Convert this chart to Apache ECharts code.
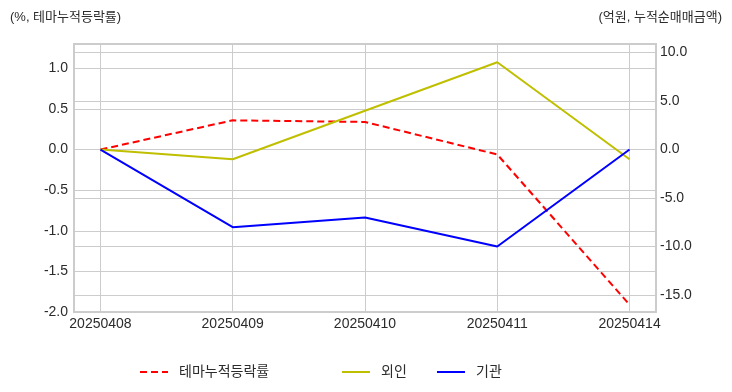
<!DOCTYPE html>
<html><head><meta charset="utf-8">
<script src="https://cdn.jsdelivr.net/npm/echarts@6/dist/echarts.min.js"></script>
<style>html,body{margin:0;padding:0;background:#fff}#c{width:732px;height:392px}</style>
</head><body><div id="c"></div>
<script>
const categories = ['20250408','20250409','20250410','20250411','20250414'];
const themeReturn = [0.0, 0.36, 0.34, -0.06, -1.91];
const foreign = [0.0, -1.0, 4.0, 9.0, -1.0];
const institution = [0.0, -8.0, -7.0, -10.0, 0.0];
const leftTicks = [-2.0, -1.5, -1.0, -0.5, 0.0, 0.5, 1.0];
const rightTicks = [-15, -10, -5, 0, 5, 10];
const seriesNames = ['테마누적등락률', '외인', '기관'];

const FONT = '"Liberation Sans", "Noto Sans CJK KR", sans-serif';
const toPairs = arr => arr.map((v, i) => [i, v]);
const chart = echarts.init(document.getElementById('c'), null, {renderer: 'canvas'});
const lbl = {color: '#2b2b2b', fontSize: 14, fontFamily: FONT};
const legTxt = {fontSize: 14, color: '#2b2b2b', fontFamily: FONT, padding: [0, 0, 0, 6]};
const legBase = {top: 360, itemWidth: 28, itemHeight: 10, itemStyle: {opacity: 0}, textStyle: legTxt};
chart.setOption({
  animation: false,
  backgroundColor: '#fff',
  title: [
    {text: '(%, 테마누적등락률)', left: 5, top: 6, textStyle: {fontSize: 13, fontWeight: 'normal', color: '#2b2b2b', fontFamily: FONT}},
    {text: '(억원, 누적순매매금액)', right: 5, top: 6, textStyle: {fontSize: 13, fontWeight: 'normal', color: '#2b2b2b', fontFamily: FONT}}
  ],
  legend: [
    Object.assign({data: [seriesNames[0]], left: 134}, legBase),
    Object.assign({data: [seriesNames[1]], left: 336}, legBase),
    Object.assign({data: [seriesNames[2]], left: 431}, legBase)
  ],
  grid: {left: 74, right: 76, top: 44, bottom: 80, show: true, borderColor: '#cccccc', borderWidth: 2, backgroundColor: 'transparent'},
  xAxis: {
    type: 'value', min: -0.2, max: 4.2,
    axisLine: {show: false},
    axisTick: {show: false, customValues: categories.map((c, i) => i)},
    axisLabel: Object.assign({customValues: categories.map((c, i) => i), formatter: v => categories[Math.round(v)], margin: 5}, lbl),
    splitLine: {show: true, lineStyle: {color: '#cccccc', width: 1}}
  },
  yAxis: [
    {
      type: 'value', min: -2.0, max: 1.3, position: 'left',
      axisLine: {show: false},
      axisTick: {show: false, customValues: leftTicks},
      axisLabel: Object.assign({customValues: leftTicks, formatter: v => v.toFixed(1), margin: 6}, lbl),
      splitLine: {show: true, lineStyle: {color: '#cccccc', width: 1}}
    },
    {
      type: 'value', min: -16.75, max: 10.88, position: 'right',
      axisLine: {show: false},
      axisTick: {show: false, customValues: rightTicks},
      axisLabel: Object.assign({customValues: rightTicks, formatter: v => v.toFixed(1), margin: 4}, lbl),
      splitLine: {show: true, lineStyle: {color: '#cccccc', width: 1}}
    }
  ],
  series: [
    {name: seriesNames[0], type: 'line', yAxisIndex: 0, data: toPairs(themeReturn), symbol: 'none',
     color: '#ff0000', lineStyle: {color: '#ff0000', width: 2, type: [7, 4]}},
    {name: seriesNames[1], type: 'line', yAxisIndex: 1, data: toPairs(foreign), symbol: 'none',
     color: '#bfbf00', lineStyle: {color: '#bfbf00', width: 2}},
    {name: seriesNames[2], type: 'line', yAxisIndex: 1, data: toPairs(institution), symbol: 'none',
     color: '#0000ff', lineStyle: {color: '#0000ff', width: 2}}
  ]
});
</script></body></html>
